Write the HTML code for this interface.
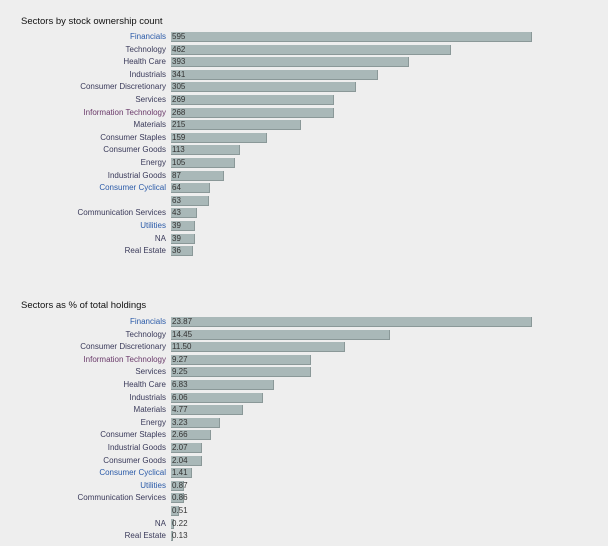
<!DOCTYPE html>
<html><head><meta charset="utf-8"><style>
body{margin:0;width:608px;height:546px;background:#eeeeee;font-family:"Liberation Sans",sans-serif;position:relative;overflow:hidden}
.t{position:absolute;left:21px;font-size:9.5px;color:#111}
.l{position:absolute;right:442px;font-size:8px;color:#3a3a5a;white-space:nowrap;line-height:10px}
.b{position:absolute;left:171px;height:10px;background:#a9b8b8;border-right:1px solid #8a9898;border-bottom:1px solid #8a9898;box-sizing:border-box}
.v{position:absolute;left:172px;font-size:8px;color:#333;line-height:10px}
.blue{color:#2a5aa8}
</style></head><body>
<div class="t" style="top:16px">Sectors by stock ownership count</div>
<div class="t" style="top:300px">Sectors as % of total holdings</div>
<div id="c"></div>
<script>
var d1=[["Financials",595,1],["Technology",462],["Health Care",393],["Industrials",341],["Consumer Discretionary",305],["Services",269],["Information Technology",268,2],["Materials",215],["Consumer Staples",159],["Consumer Goods",113],["Energy",105],["Industrial Goods",87],["Consumer Cyclical",64,1],["",63],["Communication Services",43],["Utilities",39,1],["NA",39],["Real Estate",36]];
var d2=[["Financials","23.87",1],["Technology","14.45"],["Consumer Discretionary","11.50"],["Information Technology","9.27",2],["Services","9.25"],["Health Care","6.83"],["Industrials","6.06"],["Materials","4.77"],["Energy","3.23"],["Consumer Staples","2.66"],["Industrial Goods","2.07"],["Consumer Goods","2.04"],["Consumer Cyclical","1.41",1],["Utilities","0.87",1],["Communication Services","0.86"],["","0.51"],["NA","0.22"],["Real Estate","0.13"]];
var h="";
function draw(d,y0,max){d.forEach(function(r,i){var y=y0+i*12.6;var w=Math.max(2,Math.round(parseFloat(r[1])/max*361));
h+='<div class="l'+(r[2]==1?' blue':'')+'" style="top:'+(y-5)+'px'+(r[2]==2?';color:#6a3a6a':'')+'">'+r[0]+'</div>';
h+='<div class="b" style="top:'+(y-5)+'px;width:'+w+'px"></div>';
h+='<div class="v" style="top:'+(y-5)+'px">'+r[1]+'</div>';});}
draw(d1,37,595);draw(d2,322,23.87);
document.getElementById("c").innerHTML=h;
</script>
</body></html>
